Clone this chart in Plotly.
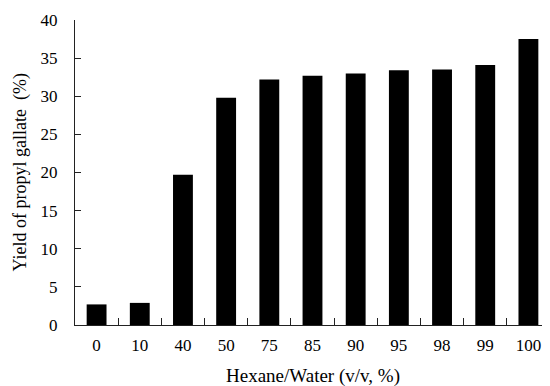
import plotly.graph_objects as go

categories = ["0", "10", "40", "50", "75", "85", "90", "95", "98", "99", "100"]
yield_values = [2.7, 2.9, 19.7, 29.8, 32.2, 32.7, 33.0, 33.4, 33.5, 34.1, 37.5]
y_ticks = [0, 5, 10, 15, 20, 25, 30, 35, 40]

FONT = "Liberation Serif, Times New Roman, serif"

fig = go.Figure(
    go.Bar(
        x=categories,
        y=yield_values,
        marker=dict(color="black", line=dict(width=0)),
        width=0.46,
    )
)

fig.update_layout(
    width=542,
    height=378,
    margin=dict(l=67, r=0, t=12, b=61),
    plot_bgcolor="white",
    paper_bgcolor="white",
    font=dict(family=FONT, size=17, color="black"),
    showlegend=False,
    annotations=[
        dict(
            text="Hexane/Water (v/v, %)",
            xref="paper", yref="paper", x=0.5, y=0,
            xanchor="center", yanchor="middle", yshift=-51,
            showarrow=False, font=dict(size=19),
        ),
        dict(
            text="Yield of propyl gallate  (%)",
            xref="paper", yref="paper", x=0, y=0.5,
            xanchor="center", yanchor="middle", xshift=-55,
            textangle=-90, showarrow=False, font=dict(size=18),
        ),
    ],
)

fig.update_xaxes(
    type="category",
    showline=True,
    linecolor="#222",
    linewidth=1,
    ticks="inside",
    ticklen=7,
    tickcolor="#222",
    tickson="boundaries",
    showgrid=False,
    ticklabelstandoff=5,
    automargin=False,
)

fig.update_yaxes(
    range=[0, 40],
    tickvals=y_ticks,
    showline=True,
    linecolor="#222",
    linewidth=1,
    ticks="inside",
    ticklen=6,
    tickcolor="#222",
    showgrid=False,
    zeroline=False,
    ticklabelstandoff=13,
    automargin=False,
)

fig.write_html("out.html")
